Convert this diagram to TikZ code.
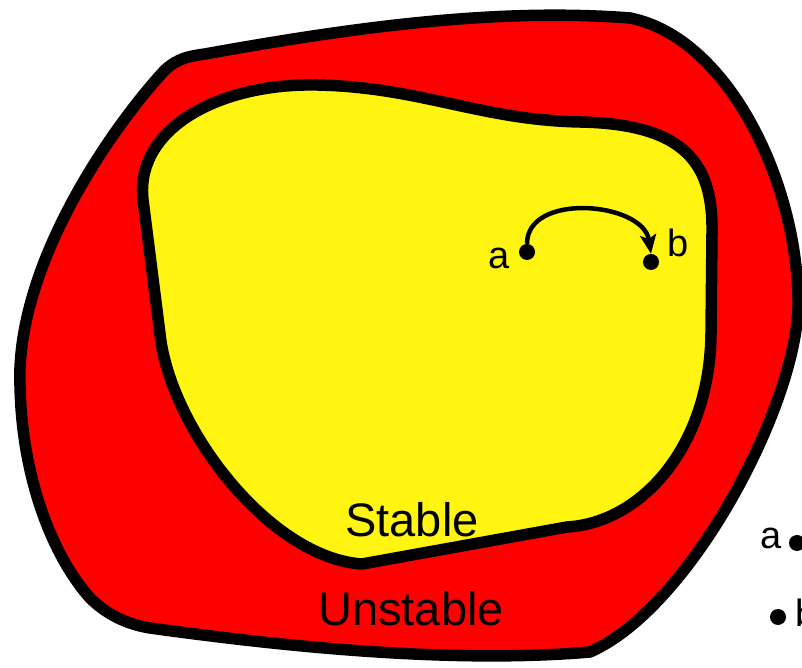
\documentclass[tikz,border=0pt]{standalone}
\usepackage{fontspec}
\setmainfont{Liberation Sans}
\usetikzlibrary{arrows.meta}
\definecolor{rzred}{HTML}{FF0000}
\definecolor{rzyellow}{HTML}{FFF510}

\begin{document}
\begin{tikzpicture}[x=1pt, y=1pt,
  region/.style={draw=black, line width=11.5pt, line join=round},
  dot/.style={circle, fill=black, inner sep=0pt, minimum size=16pt},
  lbl/.style={inner sep=0pt, font=\fontsize{38}{40}\selectfont},
  big/.style={inner sep=0pt, font=\fontsize{47}{50}\selectfont},
  hop/.style={-{Stealth[length=19pt, width=16pt, inset=4pt]}, line width=4.5pt}]
  \useasboundingbox (0,0) rectangle (802,668);
  \clip (0,0) rectangle (802,668);
  % unstable region
  \draw[region, fill=rzred] (205,614) .. controls (360,642) and (500,660) .. (630,650)
    .. controls (730,630) and (800,480) .. (798,360)
    .. controls (795,260) and (690,60) .. (590,16)
    .. controls (450,4) and (280,22) .. (150,40)
    .. controls (125,44) and (105,55) .. (90,70)
    .. controls (50,115) and (18,200) .. (20,300)
    .. controls (25,420) and (120,550) .. (165,598)
    .. controls (178,610) and (190,612) .. cycle;
  % stable region
  \draw[region, fill=rzyellow] (143,468) .. controls (135,540) and (220,585) .. (317,583)
    .. controls (420,581) and (480,548) .. (580,546)
    .. controls (690,544) and (713,500) .. (712,435)
    -- (711,335)
    .. controls (710,220) and (640,145) .. (567,141)
    -- (362,104)
    .. controls (270,110) and (170,240) .. (160,334)
    -- cycle;
  \node[big] (stable) at (412,148) {Stable};
  \node[big] (unstable) at (411,59) {Unstable};
  % states inside
  \node[dot] (a) at (527,416) {};
  \node[dot] (b) at (651,406) {};
  \node[lbl] (alab) at (499,410) {a};
  \node[lbl] (blab) at (678,425) {b};
  \draw[hop] (a.north) .. controls +(0,52) and +(-8,52) .. (b.north);
  % states outside
  \node[dot] (a2) at (797,125) {};
  \node[dot] (b2) at (778,51) {};
  \node[lbl] (a2lab) at (771,130) {a};
  \node[lbl, anchor=base west] (b2lab) at (795,41) {b};
\end{tikzpicture}
\end{document}
